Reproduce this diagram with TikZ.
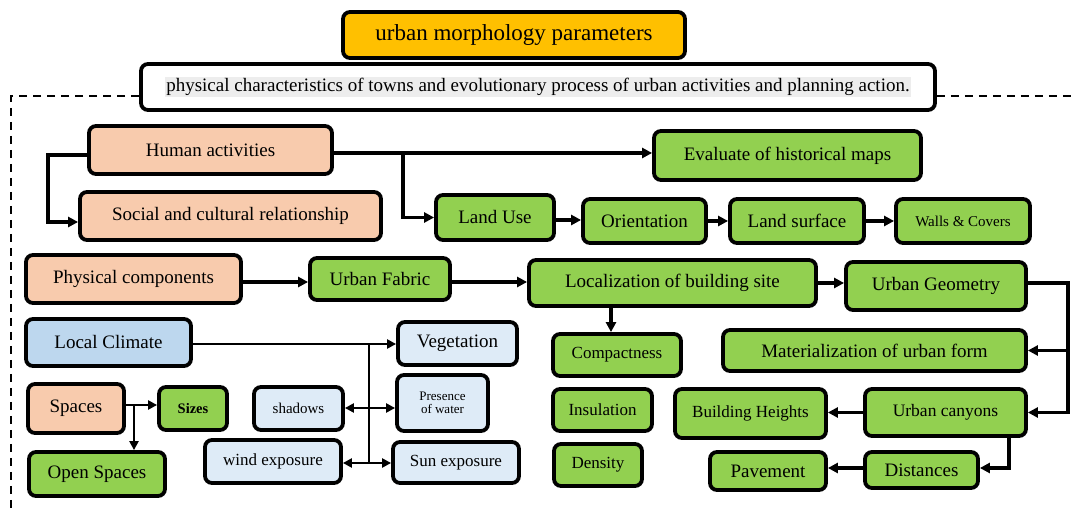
\documentclass[tikz,border=0pt]{standalone}
\usepackage{fontspec}
\setmainfont{Liberation Serif}
\usetikzlibrary{arrows.meta,calc}
\definecolor{cgreen}{HTML}{92D050}
\definecolor{cpeach}{HTML}{F8CBAD}
\definecolor{cblue}{HTML}{BDD7EE}
\definecolor{clight}{HTML}{DEEBF7}
\definecolor{corange}{HTML}{FFC000}
\definecolor{chl}{HTML}{EDEDED}
\newcommand\fsz[1]{\fontsize{#1pt}{#1pt}\selectfont}
\begin{document}
\begin{tikzpicture}[x=1pt,y=-1pt,
  box/.style={draw=black, line width=3.8pt, rounded corners=7pt, inner sep=0pt, align=center, text=black, font=\fsz{19}},
  gbox/.style={box, fill=cgreen},
  pbox/.style={box, fill=cpeach},
  bbox/.style={box, fill=cblue},
  lbox/.style={box, fill=clight},
  arr/.style={line width=3.2pt, -{Triangle[length=10pt,width=10pt]}},
  tarr/.style={line width=2.2pt, -{Triangle[length=9pt,width=9pt]}},
  darr/.style={line width=2.2pt, {Triangle[length=9pt,width=9pt]}-{Triangle[length=9pt,width=9pt]}},
  dashline/.style={line width=2pt, dash pattern=on 8pt off 6pt}
]
\useasboundingbox (0,0) rectangle (1072,510);

% top
\node[box, fill=corange, minimum width=342, minimum height=46, font=\fsz{23}] (title) at (514,35) {urban morphology parameters};
\node[box, fill=white, minimum width=794, minimum height=46] (sub) at (538,87) {{\setlength\fboxsep{1pt}\colorbox{chl}{physical characteristics of towns and evolutionary process of urban activities and planning action.}}};
\draw[dashline] (sub.west|-0,96) -- (11,96) -- (11,512);
\draw[dashline] (sub.east|-0,96) -- (1074,96);

% row 1-2
\node[pbox, minimum width=243, minimum height=48] (human) at (210.5,150) {Human activities};
\node[pbox, minimum width=301, minimum height=48] (social) at (230.5,216) {Social and cultural relationship};
\node[gbox, minimum width=267, minimum height=49] (eval) at (787.5,155.5) {Evaluate of historical maps};
\node[gbox, minimum width=118, minimum height=45] (landuse) at (495,217.5) {Land Use};
\node[gbox, minimum width=123, minimum height=44] (orient) at (644.5,221) {Orientation};
\node[gbox, minimum width=134, minimum height=44] (landsurf) at (797,221) {Land surface};
\node[gbox, minimum width=134, minimum height=44, font=\fsz{15}] (walls) at (963,221) {Walls \& Covers};

% row 3
\node[pbox, minimum width=215, minimum height=48] (phys) at (133.5,279) {Physical components};
\node[gbox, minimum width=140, minimum height=42] (fabric) at (380,279) {Urban Fabric};
\node[gbox, minimum width=287, minimum height=46] (local) at (672.5,283) {Localization of building site};
\node[gbox, minimum width=180, minimum height=48] (geom) at (936,286) {Urban Geometry};

% row 4
\node[bbox, minimum width=165, minimum height=47] (climate) at (108.5,342.5) {Local Climate};
\node[lbox, minimum width=119, minimum height=43] (veg) at (457.5,343.5) {Vegetation};
\node[gbox, minimum width=128, minimum height=42, font=\fsz{17}] (compact) at (617,355) {Compactness};
\node[gbox, minimum width=303, minimum height=41] (mater) at (874.5,350.5) {Materialization of urban form};

% row 5
\node[pbox, minimum width=96, minimum height=49] (spaces) at (76,408.5) {Spaces};
\node[gbox, minimum width=68, minimum height=43, font=\fsz{14.5}\bfseries] (sizes) at (193,408.5) {Sizes};
\node[lbox, minimum width=89, minimum height=43, font=\fsz{15}] (shadows) at (298.5,408.5) {shadows};
\node[lbox, minimum width=91, minimum height=56, font=\fsz{13}] (water) at (442.5,403) {Presence\\of water};
\node[gbox, minimum width=99, minimum height=42, font=\fsz{17}] (insul) at (602.5,410) {Insulation};
\node[gbox, minimum width=151, minimum height=49, font=\fsz{17}] (bh) at (750.5,413.5) {Building Heights};
\node[gbox, minimum width=161, minimum height=47, font=\fsz{17.5}] (uc) at (945.5,412.5) {Urban canyons};

% row 6
\node[lbox, minimum width=136, minimum height=43, font=\fsz{17}] (wind) at (273,461.5) {wind exposure};
\node[lbox, minimum width=126, minimum height=41, font=\fsz{17}] (sun) at (456,462.5) {Sun exposure};
\node[gbox, minimum width=88, minimum height=42, font=\fsz{17}] (density) at (598,465) {Density};
\node[gbox, minimum width=136, minimum height=44] (open) at (97,474) {Open Spaces};
\node[gbox, minimum width=116, minimum height=38] (pave) at (768,471) {Pavement};
\node[gbox, minimum width=113, minimum height=36] (dist) at (921.5,470) {Distances};

% connectors
\coordinate (j1) at (403,153);
\draw[arr] (human.east|-j1) -- (eval.west|-j1);
\draw[arr] (j1) |- (landuse.west);
\coordinate (j2) at (48,155);
\coordinate (j3) at (48,222);
\draw[arr] (human.west|-j2) -- (j2) -- (j3) -- (social.west|-j3);
\draw[arr] (landuse.east|-0,220) -- (orient.west|-0,220);
\draw[arr] (orient.east|-0,221) -- (landsurf.west|-0,221);
\draw[arr] (landsurf.east|-0,221) -- (walls.west|-0,221);

\draw[arr] (phys.east|-0,282) -- (fabric.west|-0,282);
\draw[arr] (fabric.east|-0,282) -- (local.west|-0,282);
\draw[arr] (local.east|-0,283) -- (geom.west|-0,283);
\coordinate (lc) at (611,283);
\draw[arr] (local.south-|lc) -- (compact.north-|lc);
\coordinate (g1) at (1068,283);
\draw[arr] (geom.east|-g1) -- (g1) |- (uc.east);
\draw[arr] (g1|-mater.east) -- (mater.east);
\draw[arr] (uc.west) -- (bh.east|-uc.west);
\coordinate (u1) at (1009,468);
\draw[arr] (uc.south-|u1) -- (u1) -- (dist.east|-u1);
\draw[arr] (dist.west|-u1) -- (pave.east|-u1);

\draw[tarr] (climate.east|-0,344) -- (veg.west|-0,344);
\coordinate (v1) at (369,344);
\coordinate (v2) at (369,463);
\draw[line width=1.6pt] (v1) -- (v2);
\draw[darr] (shadows.east|-0,408) -- (water.west|-0,408);
\draw[darr] (wind.east|-v2) -- (sun.west|-v2);

\coordinate (s1) at (134,405);
\draw[tarr] (spaces.east|-s1) -- (sizes.west|-s1);
\draw[tarr] (s1) -- (open.north-|s1);
\end{tikzpicture}
\end{document}
